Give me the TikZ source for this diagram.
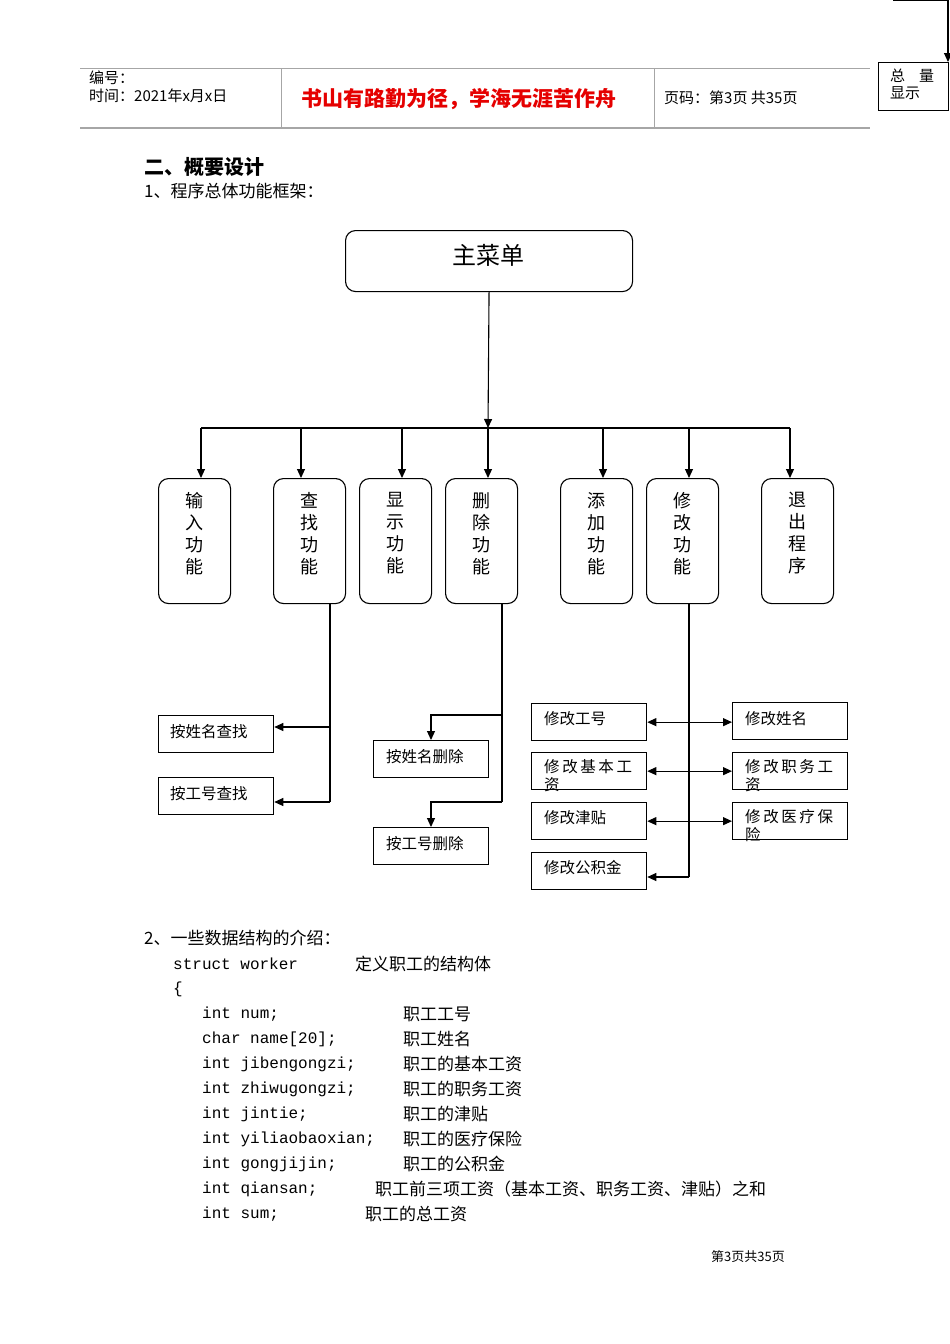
\documentclass[tikz,border=0pt]{standalone}
\usepackage{fontspec}
\setmainfont{Liberation Serif}
\newfontfamily\cjk{Noto Sans CJK SC}
\newfontfamily\mono{Liberation Mono}
\usetikzlibrary{arrows.meta}
\begin{document}
\begin{tikzpicture}[x=1pt,y=-1pt,
 tip/.tip={Triangle[length=9pt,width=8pt]},
 arr/.style={-tip,line width=1.1pt},
 ln/.style={line width=1.1pt},
 fn/.style={draw,rounded corners=10pt,line width=1.1pt,minimum width=72pt,minimum height=125pt,anchor=north west,inner sep=0pt},
 sb/.style={draw,line width=1.3pt,minimum width=115pt,minimum height=37pt,anchor=north west,inner sep=0pt},
 t/.style={font=\cjk\fontsize{15.5}{18}\selectfont,anchor=west,inner sep=0pt},
 t2/.style={font=\cjk\fontsize{15.5}{18}\selectfont,anchor=north west,inner sep=0pt,align=left},
 c/.style={font=\mono\fontsize{16}{18}\selectfont,anchor=west,inner sep=0pt}]
\useasboundingbox (0,0) rectangle (950,1344);
% header
\draw[gray!70,line width=1pt] (80,68) -- (870,68);
\draw[gray!70,line width=2pt] (80,128) -- (870,128);
\draw[gray!70] (281,68) -- (281,128) (654,68) -- (654,128);
\node[t,font=\cjk\fontsize{15}{16}\selectfont] (h1) at (89,78) {编号：};
\node[t,font=\cjk\fontsize{15}{16}\selectfont] (h2) at (89,96) {时间：2021年x月x日};
\node[t,font=\cjk\bfseries\fontsize{21}{22}\selectfont,text=red!90!black] (h3) at (301,99) {书山有路勤为径，学海无涯苦作舟};
\node[t,font=\cjk\fontsize{15}{16}\selectfont] (h4) at (664,98) {页码：第3页 共35页};
\node[draw,line width=1.1pt,minimum width=70pt,minimum height=48pt,anchor=north west] (zl) at (878,62) {};
\node[t,font=\cjk\fontsize{15}{16}\selectfont] at (890,76) {总\hspace{14pt}量};
\node[t,font=\cjk\fontsize{15}{16}\selectfont] at (890,93) {显示};
\coordinate (za) at (893,0);
\draw[arr] (za) -- (948,0) -- (948,62);
% headings
\node[t,font=\cjk\bfseries\fontsize{20}{22}\selectfont] (s1) at (144,167) {二、概要设计};
\node[t,font=\cjk\fontsize{17}{18}\selectfont] (s2) at (144,191) {1、程序总体功能框架：};
% main
\node[draw,rounded corners=10pt,line width=1.1pt,minimum width=287pt,minimum height=61pt,anchor=north west] (m) at (345,230) {};
\node[font=\cjk\fontsize{24}{26}\selectfont] at (488,255) {主菜单};
\coordinate (bus) at (488,428);
\draw[arr] (m.south) -- (bus);
\draw[ln] (201,428) -- (790,428);
\foreach \nm/\x/\tx in {a/158/输\\入\\功\\能, b/273/查\\找\\功\\能, cc/359/显\\示\\功\\能, d/445/删\\除\\功\\能, e/560/添\\加\\功\\能, f/646/修\\改\\功\\能, g/761/退\\出\\程\\序}{
 \node[fn] (\nm) at (\x,478) {};
 \node[font=\cjk\fontsize{18}{22}\selectfont,align=center,anchor=north] at ([yshift=-11pt]\nm.north) {\tx};
}
\foreach \x in {201,301,402,488,603,689,790}{\draw[arr] (\x,428) -- (\x,478);}
% search
\node[sb] (q1) at (158,715) {}; \node[t] at (170,732) {按姓名查找};
\node[sb] (q2) at (158,777) {}; \node[t] at (170,794) {按工号查找};
\draw[ln] (330,603) -- (330,802);
\draw[arr] (330,727) -- (q1.east |- 0,727);
\draw[arr] (330,802) -- (q2.east |- 0,802);
% delete
\node[sb] (d1) at (373,740) {}; \node[t] at (386,757) {按姓名删除};
\node[sb] (d2) at (373,827) {}; \node[t] at (386,844) {按工号删除};
\draw[ln] (502,603) -- (502,802);
\draw[arr] (502,715) -- (431,715) -- (d1.north -| 431,0);
\draw[arr] (502,802) -- (431,802) -- (d2.north -| 431,0);
% modify
\node[sb] (x1) at (531,703) {}; \node[t] at (544,719) {修改工号};
\node[sb] (x2) at (531,752) {}; \node[t2] at (544,759) {修\,改\,基\,本\,工\\资};
\node[sb] (x3) at (531,802) {}; \node[t] at (544,818) {修改津贴};
\node[sb] (x4) at (531,852) {}; \node[t] at (544,868) {修改公积金};
\node[sb] (y1) at (732,702) {}; \node[t] at (745,719) {修改姓名};
\node[sb] (y2) at (732,752) {}; \node[t2] at (745,759) {修\,改\,职\,务\,工\\资};
\node[sb] (y3) at (732,802) {}; \node[t2] at (745,809) {修\,改\,医\,疗\,保\\险};
\draw[ln] (689,603) -- (689,877);
\draw[arr] (689,877) -- (x4.east |- 0,877);
\draw[tip-tip,line width=1.1pt] (x1.east) -- (y1.west |- x1.east);
\draw[tip-tip,line width=1.1pt] (x2.east) -- (y2.west |- x2.east);
\draw[tip-tip,line width=1.1pt] (x3.east) -- (y3.west |- x3.east);
% data structures
\node[t,font=\cjk\fontsize{17}{18}\selectfont] at (144,938) {2、一些数据结构的介绍：};
\node[c] at (173,964) {struct worker}; \node[t,font=\cjk\fontsize{17}{18}\selectfont] at (355,964) {定义职工的结构体};
\node[c] at (173,989) {\{};
\foreach \y/\cd/\cm in {1014/int num;/职工工号, 1039/char name[20];/职工姓名, 1064/int jibengongzi;/职工的基本工资, 1089/int zhiwugongzi;/职工的职务工资, 1114/int jintie;/职工的津贴, 1139/int yiliaobaoxian;/职工的医疗保险, 1164/int gongjijin;/职工的公积金}{
 \node[c] at (202,\y) {\cd}; \node[t,font=\cjk\fontsize{17}{18}\selectfont] at (403,\y) {\cm};}
\node[c] at (202,1189) {int qiansan;}; \node[t,font=\cjk\fontsize{17}{18}\selectfont] at (375,1189) {职工前三项工资（基本工资、职务工资、津贴）之和};
\node[c] at (202,1214) {int sum;}; \node[t,font=\cjk\fontsize{17}{18}\selectfont] at (365,1214) {职工的总工资};
\node[t,font=\cjk\fontsize{13}{14}\selectfont] at (711,1257) {第3页共35页};
\end{tikzpicture}
\end{document}
